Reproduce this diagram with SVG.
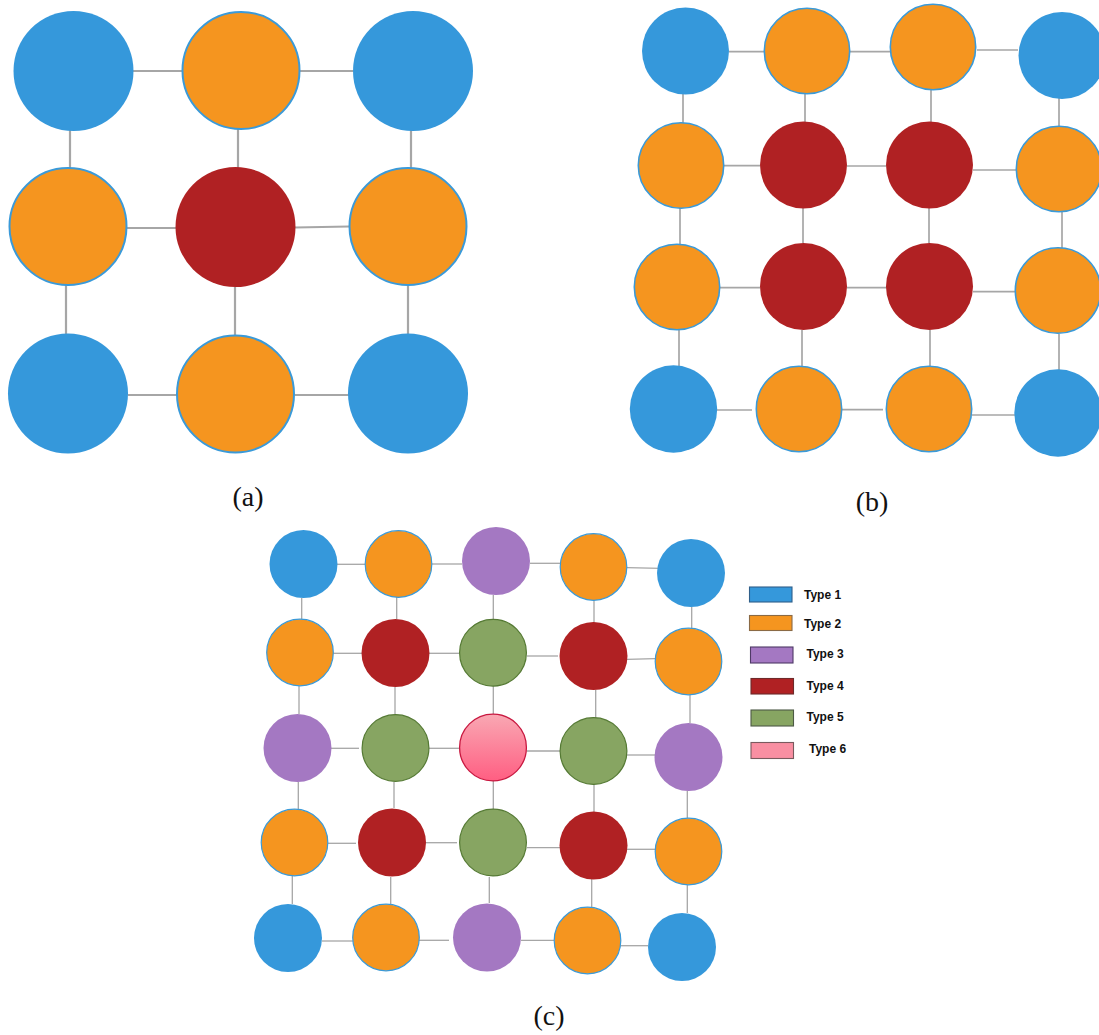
<svg xmlns="http://www.w3.org/2000/svg" width="1099" height="1035" viewBox="0 0 1099 1035">
  <defs>
    <linearGradient id="pinkGrad" x1="0" y1="0" x2="0" y2="1">
      <stop offset="0" stop-color="#f9a8b3"/>
      <stop offset="1" stop-color="#ff5e82"/>
    </linearGradient>
    <style>
      .e { stroke: #a6a6a6; fill: none; stroke-linecap: butt; }
      .ea { stroke-width: 2.2; }
      .eb { stroke-width: 1.7; }
      .ec { stroke-width: 1.3; }
      .t1 { fill: #3598db; }
      .t2 { fill: #f5951f; stroke: #3a9ad9; }
      .t3 { fill: #a478c2; }
      .t4 { fill: #b02123; }
      .t5 { fill: #87a562; stroke: #557a34; stroke-width: 1.2; }
      .t6 { fill: url(#pinkGrad); stroke: #c8173f; stroke-width: 1.3; }
      .sa { stroke-width: 2; }
      .sb { stroke-width: 1.6; }
      .sc { stroke-width: 1.2; }
      .cap { font-family: "Liberation Serif", "DejaVu Serif", serif; font-size: 28px; fill: #111; text-anchor: middle; }
      .lg { font-family: "Liberation Sans", Arial, sans-serif; font-weight: bold; font-size: 12px; fill: #111; }
      .lr { stroke-width: 1.1; }
    </style>
  </defs>

  <rect x="0" y="0" width="1099" height="1035" fill="#ffffff"/>

  <!-- connectors -->
  <g id="connectors" class="e">
    <!-- panel a -->
    <g class="ea">
      <line x1="133" y1="71" x2="182" y2="71"/>
      <line x1="300" y1="71" x2="353" y2="71"/>
      <line x1="70" y1="130" x2="70" y2="169"/>
      <line x1="238" y1="129" x2="238" y2="168"/>
      <line x1="411" y1="130" x2="411" y2="168"/>
      <line x1="127" y1="228" x2="176" y2="228"/>
      <line x1="295" y1="227.5" x2="349" y2="226.5"/>
      <line x1="66" y1="285" x2="66" y2="334"/>
      <line x1="235" y1="287" x2="235" y2="335"/>
      <line x1="408" y1="285" x2="408" y2="335"/>
      <line x1="128" y1="395" x2="177" y2="395"/>
      <line x1="295" y1="395" x2="349" y2="395"/>
    </g>
    <!-- panel b -->
    <g class="eb">
      <line x1="729" y1="51.7" x2="764" y2="51.7"/>
      <line x1="850" y1="51.7" x2="890" y2="51.7"/>
      <line x1="977" y1="50" x2="1018" y2="50"/>
      <line x1="683" y1="94" x2="683" y2="123"/>
      <line x1="805" y1="94" x2="805" y2="123"/>
      <line x1="931" y1="89" x2="931" y2="123"/>
      <line x1="1059" y1="98" x2="1059" y2="127"/>
      <line x1="724" y1="165.7" x2="760" y2="165.7"/>
      <line x1="847" y1="166" x2="886" y2="166"/>
      <line x1="973" y1="170" x2="1016" y2="170"/>
      <line x1="680" y1="208" x2="680" y2="244"/>
      <line x1="803" y1="208" x2="803" y2="243"/>
      <line x1="929" y1="208" x2="929" y2="243"/>
      <line x1="1062" y1="212" x2="1062" y2="248"/>
      <line x1="720" y1="287.7" x2="760" y2="287.7"/>
      <line x1="847" y1="287.7" x2="888" y2="287.7"/>
      <line x1="973" y1="291.7" x2="1016" y2="291.7"/>
      <line x1="679" y1="330" x2="679" y2="366"/>
      <line x1="802" y1="330" x2="802" y2="366"/>
      <line x1="930" y1="330" x2="930" y2="366"/>
      <line x1="1059" y1="334" x2="1059" y2="370"/>
      <line x1="717" y1="410" x2="752" y2="410"/>
      <line x1="842" y1="409.7" x2="883" y2="409.7"/>
      <line x1="972" y1="415" x2="1015" y2="415"/>
    </g>
    <!-- panel c -->
    <g class="ec">
      <line x1="337" y1="564.3" x2="365" y2="564.3"/>
      <line x1="432" y1="564" x2="462" y2="564"/>
      <line x1="530" y1="563.3" x2="560" y2="563.3"/>
      <line x1="627" y1="567.7" x2="661" y2="568.3"/>
      <line x1="301.7" y1="598" x2="301.7" y2="619"/>
      <line x1="396.7" y1="597" x2="396.7" y2="619"/>
      <line x1="493.3" y1="595" x2="493.3" y2="619"/>
      <line x1="594" y1="600" x2="594" y2="623"/>
      <line x1="691.7" y1="607" x2="691.7" y2="629"/>
      <line x1="333" y1="653.3" x2="362" y2="653.3"/>
      <line x1="429" y1="653.3" x2="459" y2="653.3"/>
      <line x1="527" y1="656" x2="558" y2="656"/>
      <line x1="627" y1="659.3" x2="655" y2="658.7"/>
      <line x1="299" y1="686" x2="299" y2="714"/>
      <line x1="395" y1="687" x2="395" y2="714"/>
      <line x1="493.3" y1="686" x2="493.3" y2="714"/>
      <line x1="595.7" y1="690" x2="595.7" y2="718"/>
      <line x1="690" y1="695" x2="690" y2="723"/>
      <line x1="331" y1="748.3" x2="359" y2="748.3"/>
      <line x1="429" y1="748.3" x2="459" y2="748.3"/>
      <line x1="527" y1="751" x2="560" y2="751"/>
      <line x1="627" y1="755" x2="655" y2="755"/>
      <line x1="298.3" y1="782" x2="298.3" y2="809"/>
      <line x1="394" y1="782" x2="394" y2="808"/>
      <line x1="493.3" y1="781" x2="493.3" y2="809"/>
      <line x1="594" y1="784" x2="594" y2="812"/>
      <line x1="687.3" y1="791" x2="687.3" y2="818"/>
      <line x1="328" y1="843.3" x2="356" y2="843.3"/>
      <line x1="426" y1="842.7" x2="457" y2="842.7"/>
      <line x1="527" y1="847.7" x2="560" y2="847.7"/>
      <line x1="627" y1="849.3" x2="655" y2="849.3"/>
      <line x1="292.3" y1="876" x2="292.3" y2="904"/>
      <line x1="390.7" y1="877" x2="390.7" y2="904"/>
      <line x1="489.3" y1="877" x2="489.3" y2="903"/>
      <line x1="591.7" y1="879" x2="591.7" y2="907"/>
      <line x1="687.3" y1="885" x2="687.3" y2="913"/>
      <line x1="322" y1="941" x2="353" y2="941"/>
      <line x1="419" y1="940.3" x2="449" y2="940.3"/>
      <line x1="521" y1="940.3" x2="554" y2="940.3"/>
      <line x1="621" y1="945.7" x2="648" y2="945.7"/>
    </g>
  </g>

  <!-- panel a: 3x3 lattice -->
  <g id="panel-a">
    <g id="a-r1c1"><circle class="t1" cx="73.5" cy="71" r="60"/></g>
    <g id="a-r1c2"><circle class="t2 sa" cx="241" cy="70.5" r="58.5"/></g>
    <g id="a-r1c3"><circle class="t1" cx="413" cy="71" r="60"/></g>
    <g id="a-r2c1"><circle class="t2 sa" cx="68" cy="226.5" r="58.5"/></g>
    <g id="a-r2c2"><circle class="t4" cx="235.5" cy="227" r="60"/></g>
    <g id="a-r2c3"><circle class="t2 sa" cx="408" cy="226.5" r="58.5"/></g>
    <g id="a-r3c1"><circle class="t1" cx="68" cy="393.5" r="60"/></g>
    <g id="a-r3c2"><circle class="t2 sa" cx="235.5" cy="394" r="58.5"/></g>
    <g id="a-r3c3"><circle class="t1" cx="408" cy="393.5" r="60"/></g>
  </g>

  <!-- panel b: 4x4 lattice -->
  <g id="panel-b">
    <g id="b-r1c1"><circle class="t1" cx="685.5" cy="51" r="43.5"/></g>
    <g id="b-r1c2"><circle class="t2 sb" cx="807" cy="51" r="42.7"/></g>
    <g id="b-r1c3"><circle class="t2 sb" cx="933" cy="47" r="42.7"/></g>
    <g id="b-r1c4"><circle class="t1" cx="1062" cy="55.5" r="43.5"/></g>
    <g id="b-r2c1"><circle class="t2 sb" cx="681" cy="165.5" r="42.7"/></g>
    <g id="b-r2c2"><circle class="t4" cx="803.5" cy="165" r="43.5"/></g>
    <g id="b-r2c3"><circle class="t4" cx="929.5" cy="165" r="43.5"/></g>
    <g id="b-r2c4"><circle class="t2 sb" cx="1059" cy="169" r="42.7"/></g>
    <g id="b-r3c1"><circle class="t2 sb" cx="677" cy="287" r="42.7"/></g>
    <g id="b-r3c2"><circle class="t4" cx="803.5" cy="286.5" r="43.5"/></g>
    <g id="b-r3c3"><circle class="t4" cx="929.5" cy="286.5" r="43.5"/></g>
    <g id="b-r3c4"><circle class="t2 sb" cx="1058" cy="290.5" r="42.7"/></g>
    <g id="b-r4c1"><circle class="t1" cx="673.5" cy="409" r="43.7"/></g>
    <g id="b-r4c2"><circle class="t2 sb" cx="799" cy="409" r="42.7"/></g>
    <g id="b-r4c3"><circle class="t2 sb" cx="929" cy="409" r="42.7"/></g>
    <g id="b-r4c4"><circle class="t1" cx="1058" cy="413" r="43.7"/></g>
  </g>

  <!-- panel c: 5x5 lattice -->
  <g id="panel-c">
    <g id="c-r1c1"><circle class="t1" cx="303.5" cy="564" r="34"/></g>
    <g id="c-r1c2"><circle class="t2 sc" cx="398.5" cy="564" r="33.3"/></g>
    <g id="c-r1c3"><circle class="t3" cx="496" cy="561" r="34"/></g>
    <g id="c-r1c4"><circle class="t2 sc" cx="593.5" cy="567" r="33.3"/></g>
    <g id="c-r1c5"><circle class="t1" cx="691" cy="573" r="34"/></g>
    <g id="c-r2c1"><circle class="t2 sc" cx="300" cy="652.5" r="33.3"/></g>
    <g id="c-r2c2"><circle class="t4" cx="395.5" cy="653" r="34"/></g>
    <g id="c-r2c3"><circle class="t5" cx="493" cy="652.7" r="33.4"/></g>
    <g id="c-r2c4"><circle class="t4" cx="593.5" cy="656" r="34"/></g>
    <g id="c-r2c5"><circle class="t2 sc" cx="688.5" cy="661.5" r="33.3"/></g>
    <g id="c-r3c1"><circle class="t3" cx="297.5" cy="748" r="34"/></g>
    <g id="c-r3c2"><circle class="t5" cx="395.5" cy="748" r="33.4"/></g>
    <g id="c-r3c3"><circle class="t6" cx="493" cy="747.5" r="33.4"/></g>
    <g id="c-r3c4"><circle class="t5" cx="593.5" cy="751" r="33.4"/></g>
    <g id="c-r3c5"><circle class="t3" cx="688.5" cy="757" r="34"/></g>
    <g id="c-r4c1"><circle class="t2 sc" cx="294.5" cy="842.5" r="33.3"/></g>
    <g id="c-r4c2"><circle class="t4" cx="392" cy="842.5" r="34"/></g>
    <g id="c-r4c3"><circle class="t5" cx="493" cy="842.5" r="33.4"/></g>
    <g id="c-r4c4"><circle class="t4" cx="593.5" cy="845.5" r="34"/></g>
    <g id="c-r4c5"><circle class="t2 sc" cx="688.5" cy="851.5" r="33.3"/></g>
    <g id="c-r5c1"><circle class="t1" cx="288" cy="938" r="34"/></g>
    <g id="c-r5c2"><circle class="t2 sc" cx="386" cy="937.5" r="33.3"/></g>
    <g id="c-r5c3"><circle class="t3" cx="487" cy="937.5" r="34"/></g>
    <g id="c-r5c4"><circle class="t2 sc" cx="587.5" cy="940.5" r="33.3"/></g>
    <g id="c-r5c5"><circle class="t1" cx="682" cy="947" r="34"/></g>
  </g>

  <!-- legend for panel c -->
  <g id="legend">
    <rect class="t1 lr" x="749.5" y="587" width="42.5" height="15" stroke="#2f5f8a"/>
    <text class="lg" x="804" y="599">Type 1</text>
    <rect class="lr" x="749.5" y="615.5" width="42.5" height="15" fill="#f5951f" stroke="#8a6a45"/>
    <text class="lg" x="804" y="627.5">Type 2</text>
    <rect class="t3 lr" x="750.5" y="647" width="42.5" height="16" stroke="#4f3a66"/>
    <text class="lg" x="806.5" y="658">Type 3</text>
    <rect class="t4 lr" x="751" y="678.5" width="42.5" height="15.5" stroke="#6e2a2a"/>
    <text class="lg" x="806.5" y="689.5">Type 4</text>
    <rect class="lr" x="751" y="710" width="42.5" height="16" fill="#87a562" stroke="#4d5a45"/>
    <text class="lg" x="806.5" y="721">Type 5</text>
    <rect class="lr" x="751" y="742.5" width="42.5" height="16" fill="#f98fa2" stroke="#7a5a5e"/>
    <text class="lg" x="809" y="752.5">Type 6</text>
  </g>

  <!-- sub-figure captions -->
  <g id="captions">
    <text class="cap" x="248" y="506">(a)</text>
    <text class="cap" x="872" y="511">(b)</text>
    <text class="cap" x="549" y="1025">(c)</text>
  </g>
</svg>
